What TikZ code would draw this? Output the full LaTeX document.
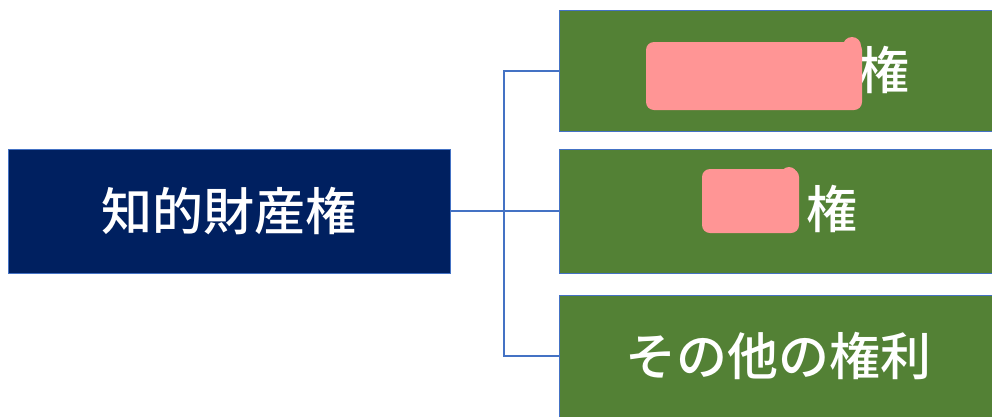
\documentclass[tikz,border=0pt]{standalone}
\usepackage{fontspec}
\newfontfamily\jp{Noto Sans CJK JP Medium}
\definecolor{navy}{HTML}{002060}
\definecolor{leaf}{HTML}{538135}
\definecolor{edge}{HTML}{4472C4}
\definecolor{blot}{HTML}{FF9595}
\begin{document}
\begin{tikzpicture}[x=1pt,y=-1pt,
  box/.style={rectangle, draw=edge, line width=0.8pt, inner sep=0pt,
    text=white, font=\jp\fontsize{51}{60}\selectfont},
  mainbox/.style={box, fill=navy, minimum width=442pt, minimum height=124pt},
  subbox/.style={box, fill=leaf, minimum width=438pt, minimum height=121pt},
  lab/.style={text=white, inner sep=0pt, font=\jp\fontsize{51}{60}\selectfont},
  link/.style={draw=edge, line width=1.6pt},
  blotch/.style={fill=blot, rounded corners=8pt}]
\clip (0,0) rectangle (992,416);
\fill[white] (0,0) rectangle (992,416);
\node[mainbox] (ip) at (229,211) {知的財産権};
\node[subbox] (b1) at (778,71) {};
\node[subbox, minimum height=124pt] (b2) at (778,211) {};
\node[subbox, minimum height=122pt] (b3) at (778,356) {その他の権利};
\coordinate (j) at (504,211);
\draw[link] (ip.east) -- (b2.west);
\draw[link] (b1.west) -| (j) |- (b3.west);
% visible part of the hidden labels
\node[lab] (k1) at (884,70) {権};
\node[lab] (k2) at (832,209) {権};
% redaction blots
\fill[blotch] (646,42) rectangle (862,110);
\fill[blot] (852,46) circle (9);
\fill[blotch] (702,169) rectangle (799,233);
\fill[blot] (789,175) circle (8);
\end{tikzpicture}
\end{document}
